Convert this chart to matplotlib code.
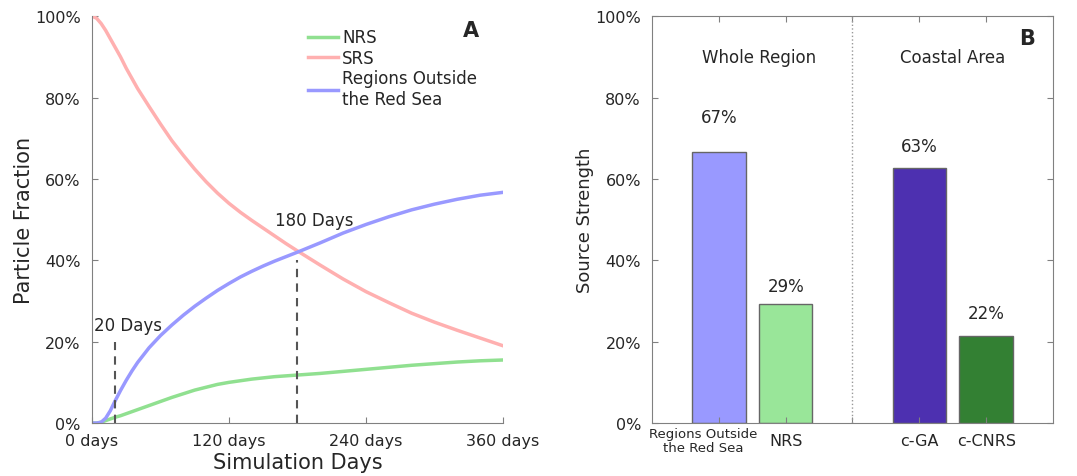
import numpy as np
import matplotlib
matplotlib.use("Agg")
import matplotlib.pyplot as plt
import matplotlib.transforms as mtransforms

# ── data ──────────────────────────────────────────────────────────────────────
days = [0, 4, 8, 12, 16, 20, 25, 30, 35, 40, 50, 60, 70, 80, 90, 100, 110, 120,
        130, 140, 150, 160, 170, 180, 200, 220, 240, 260, 280, 300, 320, 340, 360]
srs_frac = [100, 99.5, 98.2, 96.5, 94.5, 92.5, 90.0, 87.2, 84.7, 82.2, 77.8,
            73.5, 69.4, 65.8, 62.4, 59.3, 56.5, 54.0, 51.8, 49.8, 47.9, 46.0,
            44.1, 42.3, 38.8, 35.4, 32.3, 29.6, 27.0, 24.8, 22.8, 20.9, 19.0]
out_frac = [0, 0, 0.2, 1.2, 3.0, 5.3, 8.0, 10.5, 12.8, 14.9, 18.5, 21.5, 24.1,
            26.5, 28.7, 30.7, 32.6, 34.3, 35.9, 37.3, 38.6, 39.8, 40.9, 42.0,
            44.3, 46.7, 48.8, 50.7, 52.4, 53.8, 55.0, 56.0, 56.7]
nrs_frac = [0, 0, 0.2, 0.6, 1.0, 1.4, 1.8, 2.3, 2.8, 3.3, 4.3, 5.3, 6.3, 7.2,
            8.1, 8.8, 9.5, 10.0, 10.4, 10.8, 11.1, 11.4, 11.6, 11.8, 12.2,
            12.7, 13.2, 13.7, 14.2, 14.6, 15.0, 15.3, 15.5]
marks     = [(20, 20), (180, 40)]          # (day, height of dashed marker)
day_ticks = [0, 120, 240, 360]

bar_names = ["Regions Outside\nthe Red Sea", "NRS", "c-GA", "c-CNRS"]
bar_vals  = [66.6, 29.3, 62.6, 21.5]
bar_text  = ["67%", "29%", "63%", "22%"]
bar_pos   = [1, 2, 4, 5]
groups    = ["Whole Region", "Coastal Area"]

# ── theme ─────────────────────────────────────────────────────────────────────
TEXT  = "#262626"
SPINE = "#808080"
GREEN = "#90e090"
PINK  = "#ffb0b0"
BLUE  = "#9999ff"
BAR_C = ["#9999ff", "#99e699", "#4d30b0", "#338033"]

plt.rcParams.update({
    "font.family": "DejaVu Sans",
    "font.size": 11.5,
    "text.color": TEXT,
    "axes.labelcolor": TEXT,
    "xtick.color": SPINE,
    "ytick.color": SPINE,
    "xtick.labelcolor": TEXT,
    "ytick.labelcolor": TEXT,
    "xtick.direction": "in",
    "ytick.direction": "in",
    "axes.edgecolor": SPINE,
})

fig = plt.figure(figsize=(10.77, 4.77), dpi=100)

# ── Panel A : particle fraction over time ────────────────────────────────────
ax1 = fig.add_axes([0.0854, 0.111, 0.3816, 0.853])
ax1.plot(days, nrs_frac, color=GREEN, lw=2.5, label="NRS")
ax1.plot(days, srs_frac, color=PINK, lw=2.5, label="SRS")
ax1.plot(days, out_frac, color=BLUE, lw=2.5, label="Regions Outside\nthe Red Sea")
for d, h in marks:
    ax1.plot([d, d], [0, h], color="#555555", ls=(0, (4, 3)), lw=1.5)
ax1.text(2, 24, "20 Days", fontsize=12, va="center", ha="left")
ax1.text(195, 50, "180 Days", fontsize=12, va="center", ha="center")
ax1.set_xlim(0, 360)
ax1.set_ylim(0, 100)
ax1.set_xticks(day_ticks)
ax1.set_xticklabels([f"{d} days" for d in day_ticks])
ax1.set_yticks(range(0, 101, 20))
ax1.set_yticklabels([f"{v}%" for v in range(0, 101, 20)])
ax1.spines["top"].set_visible(False)
ax1.spines["right"].set_visible(False)
ax1.tick_params(axis="x", length=4, pad=7)
ax1.tick_params(axis="y", length=4, pad=8)
ax1.set_xlabel("Simulation Days", fontsize=15, labelpad=3)
ax1.set_ylabel("Particle Fraction", fontsize=15, labelpad=1)
ax1.legend(loc="upper left", bbox_to_anchor=(0.525, 0.97), frameon=False,
           borderpad=0, borderaxespad=0, handlelength=1.8,
           handletextpad=0.25, labelspacing=0.15, fontsize=12)
ax1.text(0.942, 0.99, "A", transform=ax1.transAxes, fontsize=15,
         fontweight="bold", ha="right", va="top")

# ── Panel B : source strength bars ───────────────────────────────────────────
ax2 = fig.add_axes([0.6054, 0.111, 0.3723, 0.853])
ax2.bar(bar_pos, bar_vals, width=0.8, color=BAR_C, edgecolor="#666666", lw=1)
label_off = [8.5, 4.5, 5.5, 5.5]
for p, v, t, o in zip(bar_pos, bar_vals, bar_text, label_off):
    ax2.text(p, v + o, t, ha="center", va="center", fontsize=12)
ax2.axvline(3, color="#999999", ls=":", lw=1)
ax2.text(1.6, 90, groups[0], ha="center", va="center", fontsize=12)
ax2.text(4.5, 90, groups[1], ha="center", va="center", fontsize=12)
ax2.text(0.955, 0.972, "B", transform=ax2.transAxes, fontsize=15,
         fontweight="bold", ha="right", va="top")
ax2.set_xlim(0, 6)
ax2.set_ylim(0, 100)
ax2.set_xticks([1, 2, 3, 4, 5])
ax2.set_xticklabels([bar_names[0], bar_names[1], "", bar_names[2], bar_names[3]])
ax2.set_yticks(range(0, 101, 20))
ax2.set_yticklabels([f"{v}%" for v in range(0, 101, 20)])
ax2.tick_params(top=True, right=True, length=4)
ax2.tick_params(axis="x", pad=7)
ax2.tick_params(axis="y", pad=8)
first = ax2.get_xticklabels()[0]
first.set_fontsize(9.5)
first.set_linespacing(1.1)
first.set_transform(first.get_transform() +
                    mtransforms.ScaledTranslation(-16 / 100, 6 / 100, fig.dpi_scale_trans))
ax2.set_ylabel("Source Strength", fontsize=13, labelpad=0.5)

fig.savefig("out.png", dpi=100)
